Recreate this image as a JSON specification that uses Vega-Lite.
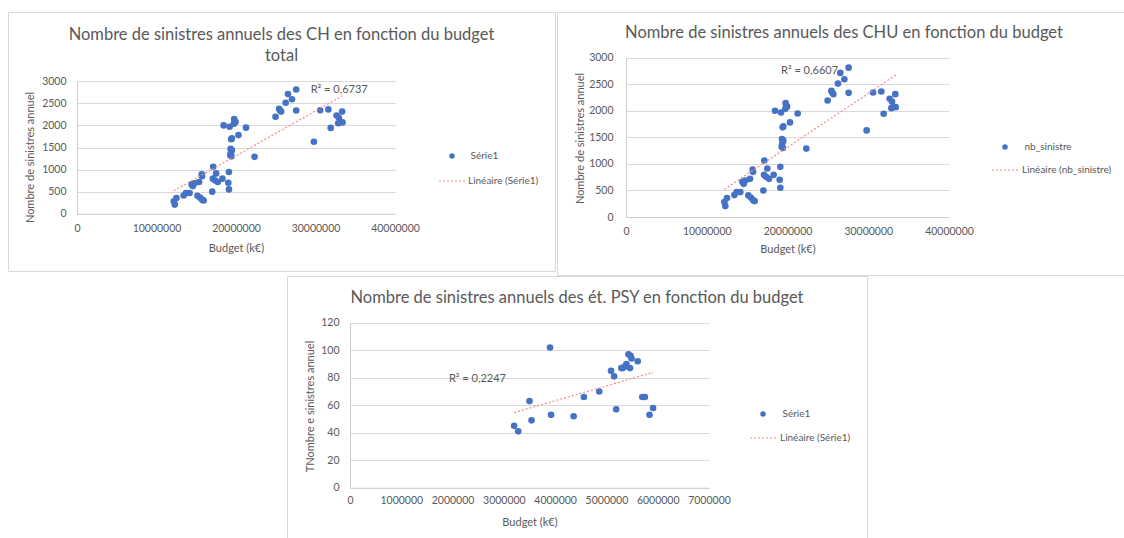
{
  "$schema": "https://vega.github.io/schema/vega-lite/v6.json",
  "background": "white",
  "padding": {"left": 7, "top": 11, "right": 0, "bottom": 0},
  "spacing": -1,
  "config": {
    "font": "Lato",
    "view": {"stroke": "#D9D9D9", "strokeWidth": 1},
    "title": {"font": "Lato", "fontSize": 16.5, "fontWeight": "normal", "color": "#595959", "anchor": "middle", "frame": "group", "baseline": "middle", "lineHeight": 21},
    "axis": {
      "labelFont": "Lato", "labelFontSize": 10.5, "labelColor": "#595959",
      "titleFont": "Lato", "titleFontSize": 11, "titleFontWeight": "normal", "titleColor": "#595959",
      "ticks": false, "tickSize": 0, "domainColor": "#D0D0D0", "gridColor": "#D9D9D9",
      "labelFlush": false, "labelOverlap": false, "format": "d"
    },
    "legend": {"labelFont": "Lato", "labelFontSize": 10, "labelColor": "#595959", "padding": 0, "title": null, "orient": "none"}
  },
  "datasets": {
    "etab": [
      {"budget": 12180000, "nb": 281}, {"budget": 12300000, "nb": 206}, {"budget": 12510000, "nb": 356},
      {"budget": 13420000, "nb": 413}, {"budget": 13700000, "nb": 469}, {"budget": 14160000, "nb": 469},
      {"budget": 14410000, "nb": 663}, {"budget": 14570000, "nb": 625}, {"budget": 14780000, "nb": 688},
      {"budget": 15360000, "nb": 719}, {"budget": 15690000, "nb": 894}, {"budget": 15730000, "nb": 850},
      {"budget": 15150000, "nb": 406}, {"budget": 15480000, "nb": 363}, {"budget": 15770000, "nb": 313},
      {"budget": 15930000, "nb": 300}, {"budget": 17010000, "nb": 500}, {"budget": 17130000, "nb": 1063},
      {"budget": 17090000, "nb": 794}, {"budget": 17340000, "nb": 756}, {"budget": 17500000, "nb": 913},
      {"budget": 17710000, "nb": 719}, {"budget": 18290000, "nb": 794}, {"budget": 18450000, "nb": 2000},
      {"budget": 19030000, "nb": 700}, {"budget": 19110000, "nb": 944}, {"budget": 19110000, "nb": 550},
      {"budget": 19200000, "nb": 1969}, {"budget": 19400000, "nb": 1688}, {"budget": 19480000, "nb": 1706},
      {"budget": 19320000, "nb": 1469}, {"budget": 19480000, "nb": 1438}, {"budget": 19360000, "nb": 1388},
      {"budget": 19280000, "nb": 1325}, {"budget": 19440000, "nb": 1300}, {"budget": 19770000, "nb": 2144},
      {"budget": 19860000, "nb": 2094}, {"budget": 19730000, "nb": 2038}, {"budget": 19940000, "nb": 2075},
      {"budget": 20310000, "nb": 1781}, {"budget": 21260000, "nb": 1950}, {"budget": 22330000, "nb": 1288},
      {"budget": 24970000, "nb": 2194}, {"budget": 25430000, "nb": 2375}, {"budget": 25550000, "nb": 2338},
      {"budget": 25680000, "nb": 2313}, {"budget": 26250000, "nb": 2513}, {"budget": 26540000, "nb": 2713},
      {"budget": 27040000, "nb": 2594}, {"budget": 27570000, "nb": 2813}, {"budget": 27570000, "nb": 2338},
      {"budget": 29800000, "nb": 1631}, {"budget": 30590000, "nb": 2344}, {"budget": 31620000, "nb": 2363},
      {"budget": 31910000, "nb": 1944}, {"budget": 32650000, "nb": 2225}, {"budget": 32940000, "nb": 2175},
      {"budget": 32860000, "nb": 2050}, {"budget": 33110000, "nb": 2075}, {"budget": 33400000, "nb": 2069},
      {"budget": 33350000, "nb": 2313}
    ],
    "psy": [
      {"budget": 3200000, "nb": 45}, {"budget": 3280000, "nb": 41}, {"budget": 3500000, "nb": 63},
      {"budget": 3540000, "nb": 49}, {"budget": 3900000, "nb": 102}, {"budget": 3920000, "nb": 53},
      {"budget": 4360000, "nb": 52}, {"budget": 4560000, "nb": 66}, {"budget": 4860000, "nb": 70},
      {"budget": 5090000, "nb": 85}, {"budget": 5150000, "nb": 81}, {"budget": 5190000, "nb": 57},
      {"budget": 5290000, "nb": 87}, {"budget": 5320000, "nb": 87}, {"budget": 5350000, "nb": 88},
      {"budget": 5390000, "nb": 90}, {"budget": 5430000, "nb": 97}, {"budget": 5470000, "nb": 96},
      {"budget": 5490000, "nb": 94}, {"budget": 5460000, "nb": 87}, {"budget": 5610000, "nb": 92},
      {"budget": 5700000, "nb": 66}, {"budget": 5750000, "nb": 66}, {"budget": 5840000, "nb": 53},
      {"budget": 5910000, "nb": 58}
    ]
  },
  "resolve": {"scale": {"color": "independent", "strokeDash": "independent"}, "legend": {"color": "independent", "strokeDash": "independent"}},
  "vconcat": [
    {
      "bounds": "flush",
      "spacing": 2,
      "resolve": {"scale": {"color": "independent", "strokeDash": "independent", "x": "independent", "y": "independent"}, "legend": {"color": "independent", "strokeDash": "independent"}},
      "hconcat": [
        {
          "width": 547,
          "height": 259,
          "title": {"text": ["Nombre de sinistres annuels des CH en fonction du budget", "total"], "offset": -52.5},
          "data": {"name": "etab"},
          "layer": [
            {
              "mark": {"type": "point", "filled": true, "size": 44, "opacity": 1},
              "encoding": {
                "x": {"field": "budget", "type": "quantitative",
                  "scale": {"domain": [0, 40000000], "range": [69, 387], "nice": false, "zero": false},
                  "axis": {"values": [0, 10000000, 20000000, 30000000, 40000000], "offset": -57.3, "grid": false, "labelPadding": 9.5,
                    "title": "Budget (k€)", "titleY": 34.3, "titleBaseline": "middle"}},
                "y": {"field": "nb", "type": "quantitative",
                  "scale": {"domain": [0, 3000], "range": [201.7, 69.3], "nice": false, "zero": false},
                  "axis": {"values": [0, 500, 1000, 1500, 2000, 2500, 3000], "offset": -69, "grid": true, "labelPadding": 11,
                    "title": "Nombre de sinistres annuel", "titleX": -47, "titleY": 145, "titleAngle": -90, "titleAlign": "center", "titleBaseline": "middle"}},
                "color": {"datum": "Série1", "type": "nominal",
                  "scale": {"domain": ["Série1"], "range": ["#4472C4"]},
                  "legend": {"legendX": 439, "legendY": 139, "symbolType": "circle", "symbolSize": 30, "labelOffset": 13.5}}
              }
            },
            {
              "transform": [{"regression": "nb", "on": "budget"}],
              "mark": {"type": "line", "color": "#F08A8A", "strokeWidth": 1.2},
              "encoding": {
                "x": {"field": "budget", "type": "quantitative"},
                "y": {"field": "nb", "type": "quantitative"},
                "strokeDash": {"datum": "Linéaire (Série1)", "type": "nominal",
                  "scale": {"domain": ["Linéaire (Série1)"], "range": [[2, 2]]},
                  "legend": {"legendX": 430, "legendY": 155, "symbolType": "stroke", "symbolSize": 676, "symbolStrokeColor": "#F08A8A", "symbolStrokeWidth": 1.2, "labelOffset": 2}}
              }
            },
            {
              "data": {"values": [{"budget": 29400000, "nb": 2796, "r2": "R² = 0,6737"}]},
              "mark": {"type": "text", "align": "left", "baseline": "middle", "font": "Lato", "fontSize": 11, "color": "#595959"},
              "encoding": {"x": {"field": "budget", "type": "quantitative"}, "y": {"field": "nb", "type": "quantitative"}, "text": {"field": "r2"}}
            }
          ]
        },
        {
          "width": 568,
          "height": 263,
          "title": {"text": "Nombre de sinistres annuels des CHU en fonction du budget", "offset": -29.5, "dx": 3},
          "data": {"name": "etab"},
          "layer": [
            {
              "mark": {"type": "point", "filled": true, "size": 44, "opacity": 1},
              "encoding": {
                "x": {"field": "budget", "type": "quantitative",
                  "scale": {"domain": [0, 40000000], "range": [69, 392], "nice": false, "zero": false},
                  "axis": {"values": [0, 10000000, 20000000, 30000000, 40000000], "offset": -58, "grid": false, "labelPadding": 9.5,
                    "title": "Budget (k€)", "titleY": 32, "titleBaseline": "middle"}},
                "y": {"field": "nb", "type": "quantitative",
                  "scale": {"domain": [0, 3000], "range": [205, 45.7], "nice": false, "zero": false},
                  "axis": {"values": [0, 500, 1000, 1500, 2000, 2500, 3000], "offset": -69, "grid": true, "labelPadding": 13,
                    "title": "Nombre de sinistres annuel", "titleX": -46, "titleY": 126, "titleAngle": -90, "titleAlign": "center", "titleBaseline": "middle"}},
                "color": {"datum": "nb_sinistre", "type": "nominal",
                  "scale": {"domain": ["nb_sinistre"], "range": ["#4472C4"]},
                  "legend": {"legendX": 443, "legendY": 130, "symbolType": "circle", "symbolSize": 30, "labelOffset": 14.5}}
              }
            },
            {
              "transform": [{"regression": "nb", "on": "budget"}],
              "mark": {"type": "line", "color": "#F08A8A", "strokeWidth": 1.2},
              "encoding": {
                "x": {"field": "budget", "type": "quantitative"},
                "y": {"field": "nb", "type": "quantitative"},
                "strokeDash": {"datum": "Linéaire (nb_sinistre)", "type": "nominal",
                  "scale": {"domain": ["Linéaire (nb_sinistre)"], "range": [[2, 2]]},
                  "legend": {"legendX": 434, "legendY": 143.5, "symbolType": "stroke", "symbolSize": 729, "symbolStrokeColor": "#F08A8A", "symbolStrokeWidth": 1.2, "labelOffset": 2}}
              }
            },
            {
              "data": {"values": [{"budget": 19200000, "nb": 2750, "r2": "R² = 0,6607"}]},
              "mark": {"type": "text", "align": "left", "baseline": "middle", "font": "Lato", "fontSize": 11, "color": "#595959"},
              "encoding": {"x": {"field": "budget", "type": "quantitative"}, "y": {"field": "nb", "type": "quantitative"}, "text": {"field": "r2"}}
            }
          ]
        }
      ]
    },
    {
      "bounds": "flush",
      "spacing": 0,
      "resolve": {"scale": {"color": "independent", "strokeDash": "independent", "x": "independent", "y": "independent"}, "legend": {"color": "independent", "strokeDash": "independent"}},
      "hconcat": [
        {
          "width": 279,
          "height": 1,
          "view": {"stroke": null},
          "data": {"values": []},
          "mark": "point"
        },
        {
          "width": 580,
          "height": 262,
          "title": {"text": "Nombre de sinistres annuels des ét. PSY en fonction du budget", "offset": -30.5},
          "data": {"name": "psy"},
          "layer": [
            {
              "mark": {"type": "point", "filled": true, "size": 44, "opacity": 1},
              "encoding": {
                "x": {"field": "budget", "type": "quantitative",
                  "scale": {"domain": [0, 7000000], "range": [63, 422], "nice": false, "zero": false},
                  "axis": {"values": [0, 1000000, 2000000, 3000000, 4000000, 5000000, 6000000, 7000000], "offset": -50.3, "grid": false, "labelPadding": 8,
                    "title": "Budget (k€)", "titleY": 34.3, "titleBaseline": "middle"}},
                "y": {"field": "nb", "type": "quantitative",
                  "scale": {"domain": [0, 120], "range": [211.7, 46.7], "nice": false, "zero": false},
                  "axis": {"values": [0, 20, 40, 60, 80, 100, 120], "offset": -63, "grid": true, "labelPadding": 11,
                    "title": "TNombre e sinistres annuel", "titleX": -40, "titleY": 130, "titleAngle": -90, "titleAlign": "center", "titleBaseline": "middle"}},
                "color": {"datum": "Série1", "type": "nominal",
                  "scale": {"domain": ["Série1"], "range": ["#4472C4"]},
                  "legend": {"legendX": 471, "legendY": 133, "symbolType": "circle", "symbolSize": 30, "labelOffset": 14.5}}
              }
            },
            {
              "transform": [{"regression": "nb", "on": "budget"}],
              "mark": {"type": "line", "color": "#F08A8A", "strokeWidth": 1.2},
              "encoding": {
                "x": {"field": "budget", "type": "quantitative"},
                "y": {"field": "nb", "type": "quantitative"},
                "strokeDash": {"datum": "Linéaire (Série1)", "type": "nominal",
                  "scale": {"domain": ["Linéaire (Série1)"], "range": [[2, 2]]},
                  "legend": {"legendX": 462, "legendY": 147.5, "symbolType": "stroke", "symbolSize": 729, "symbolStrokeColor": "#F08A8A", "symbolStrokeWidth": 1.2, "labelOffset": 2}}
              }
            },
            {
              "data": {"values": [{"budget": 1930000, "nb": 79, "r2": "R² = 0,2247"}]},
              "mark": {"type": "text", "align": "left", "baseline": "middle", "font": "Lato", "fontSize": 11, "color": "#595959"},
              "encoding": {"x": {"field": "budget", "type": "quantitative"}, "y": {"field": "nb", "type": "quantitative"}, "text": {"field": "r2"}}
            }
          ]
        }
      ]
    }
  ]
}
